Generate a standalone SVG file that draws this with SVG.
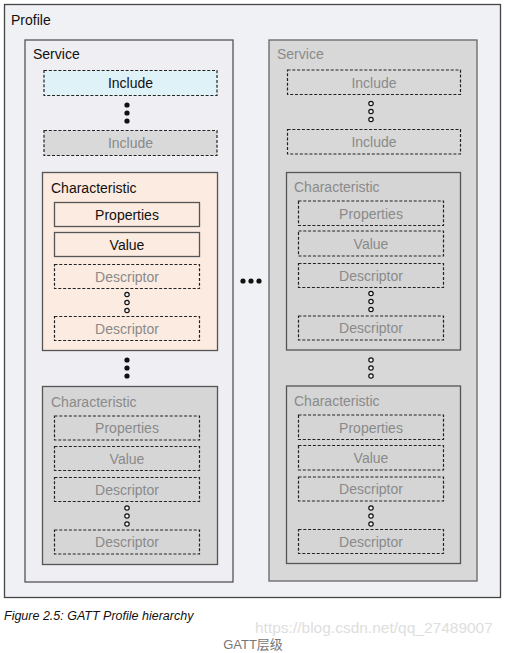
<svg xmlns="http://www.w3.org/2000/svg" width="507" height="653" viewBox="0 0 507 653">
<style>
text{font-family:"Liberation Sans",Arial,sans-serif;font-size:14px;fill:#111}
.g{fill:#8a8a8a}
.c{text-anchor:middle}
.solid{stroke:#555;stroke-width:1.3}
.dash{stroke:#222;stroke-width:1.2;stroke-dasharray:3 1.8}
.dot{fill:#111}
.ring{fill:#f4f4f4;stroke:#111;stroke-width:1.2}
</style>
<rect width="507" height="653" fill="#fff"/>
<g id="profile">
<rect x="4.5" y="4.5" width="496" height="593" fill="#f0f1f5" stroke="#444" stroke-width="1.3"/>
<text x="11" y="25">Profile</text>
</g>
<g id="service1">
<rect x="25" y="40" width="208" height="542" fill="#eeeef3" class="solid"/>
<text x="33" y="59">Service</text>
</g>
<g id="include1a"><rect x="44" y="70.5" width="173" height="25" fill="#dff2f8" class="dash"/><text x="130.5" y="88" class="c">Include</text></g>
<g id="include1b"><rect x="44" y="130.5" width="173" height="25" fill="#d9d9d9" class="dash"/><text x="130.5" y="148" class="c g">Include</text></g>
<g id="char1">
<rect x="42.5" y="172.5" width="175" height="178" fill="#fcebe0" class="solid"/>
<text x="51" y="193">Characteristic</text>
</g>
<g id="props1"><rect x="54.5" y="202.5" width="145" height="24" fill="#fcebe0" class="solid"/><text x="127" y="219.5" class="c">Properties</text></g>
<g id="value1"><rect x="54.5" y="232.5" width="145" height="24" fill="#fcebe0" class="solid"/><text x="127" y="249.5" class="c">Value</text></g>
<g id="desc1a"><rect x="54.5" y="264.5" width="145" height="24" fill="#fcebe0" class="dash"/><text x="127" y="281.5" class="c g">Descriptor</text></g>
<g id="desc1b"><rect x="54.5" y="316.5" width="145" height="24" fill="#fcebe0" class="dash"/><text x="127" y="333.5" class="c g">Descriptor</text></g>
<g id="char2">
<rect x="42.5" y="386.5" width="175" height="178" fill="#d6d6d6" class="solid"/>
<text x="51" y="407" class="g">Characteristic</text>
</g>
<g id="props2"><rect x="54.5" y="416" width="145" height="24" fill="#d6d6d6" class="dash"/><text x="127" y="433" class="c g">Properties</text></g>
<g id="value2"><rect x="54.5" y="446.5" width="145" height="24" fill="#d6d6d6" class="dash"/><text x="127" y="463.5" class="c g">Value</text></g>
<g id="desc2a"><rect x="54.5" y="477.5" width="145" height="24" fill="#d6d6d6" class="dash"/><text x="127" y="494.5" class="c g">Descriptor</text></g>
<g id="desc2b"><rect x="54.5" y="530" width="145" height="24" fill="#d6d6d6" class="dash"/><text x="127" y="547" class="c g">Descriptor</text></g>

<g id="service2">
<rect x="269" y="40" width="208" height="541" fill="#d8d8d8" stroke="#666" stroke-width="1.3"/>
<text x="277" y="59" class="g">Service</text>
</g>
<g id="include2a"><rect x="287.5" y="70" width="173" height="24.5" fill="#d8d8d8" class="dash"/><text x="374" y="87.5" class="c g">Include</text></g>
<g id="include2b"><rect x="287.5" y="129.5" width="173" height="24.5" fill="#d8d8d8" class="dash"/><text x="374" y="147" class="c g">Include</text></g>
<g id="char3">
<rect x="286.5" y="172.5" width="174" height="177.5" fill="#d5d5d5" stroke="#555" stroke-width="1.3"/>
<text x="294" y="192" class="g">Characteristic</text>
</g>
<g id="props3"><rect x="298.5" y="201" width="145" height="24.5" fill="#d5d5d5" class="dash"/><text x="371" y="218.5" class="c g">Properties</text></g>
<g id="value3"><rect x="298.5" y="231" width="145" height="25" fill="#d5d5d5" class="dash"/><text x="371" y="248.5" class="c g">Value</text></g>
<g id="desc3a"><rect x="298.5" y="263.5" width="145" height="24" fill="#d5d5d5" class="dash"/><text x="371" y="280.5" class="c g">Descriptor</text></g>
<g id="desc3b"><rect x="298.5" y="316" width="145" height="24" fill="#d5d5d5" class="dash"/><text x="371" y="333" class="c g">Descriptor</text></g>
<g id="char4">
<rect x="286.5" y="386" width="174" height="177.5" fill="#d5d5d5" stroke="#555" stroke-width="1.3"/>
<text x="294" y="406" class="g">Characteristic</text>
</g>
<g id="props4"><rect x="298.5" y="415" width="145" height="24.5" fill="#d5d5d5" class="dash"/><text x="371" y="432.5" class="c g">Properties</text></g>
<g id="value4"><rect x="298.5" y="445.5" width="145" height="24.5" fill="#d5d5d5" class="dash"/><text x="371" y="463" class="c g">Value</text></g>
<g id="desc4a"><rect x="298.5" y="477" width="145" height="24" fill="#d5d5d5" class="dash"/><text x="371" y="494" class="c g">Descriptor</text></g>
<g id="desc4b"><rect x="298.5" y="529.5" width="145" height="24" fill="#d5d5d5" class="dash"/><text x="371" y="546.5" class="c g">Descriptor</text></g>

<g id="ellipses">
<circle cx="127" cy="105" r="2.6" class="dot"/><circle cx="127" cy="113" r="2.6" class="dot"/><circle cx="127" cy="121" r="2.6" class="dot"/>
<circle cx="127" cy="360" r="2.6" class="dot"/><circle cx="127" cy="368" r="2.6" class="dot"/><circle cx="127" cy="376" r="2.6" class="dot"/>
<circle cx="127" cy="294.5" r="2.2" class="ring"/><circle cx="127" cy="302.5" r="2.2" class="ring"/><circle cx="127" cy="310.5" r="2.2" class="ring"/>
<circle cx="127" cy="508" r="2.2" class="ring"/><circle cx="127" cy="516" r="2.2" class="ring"/><circle cx="127" cy="524" r="2.2" class="ring"/>
<circle cx="371" cy="103.5" r="2.2" class="ring"/><circle cx="371" cy="111.5" r="2.2" class="ring"/><circle cx="371" cy="119.5" r="2.2" class="ring"/>
<circle cx="371" cy="293.5" r="2.2" class="ring"/><circle cx="371" cy="301.5" r="2.2" class="ring"/><circle cx="371" cy="309.5" r="2.2" class="ring"/>
<circle cx="371" cy="360" r="2.2" class="ring"/><circle cx="371" cy="368" r="2.2" class="ring"/><circle cx="371" cy="376" r="2.2" class="ring"/>
<circle cx="371" cy="508" r="2.2" class="ring"/><circle cx="371" cy="516" r="2.2" class="ring"/><circle cx="371" cy="524" r="2.2" class="ring"/>
<circle cx="243" cy="281" r="2.6" class="dot"/><circle cx="251" cy="281" r="2.6" class="dot"/><circle cx="259" cy="281" r="2.6" class="dot"/>
</g>
<g id="caption">
<text x="4" y="620" style="font-style:italic;font-size:12.5px">Figure 2.5: GATT Profile hierarchy</text>
<text x="255" y="633" style="font-size:15.5px;fill:#dedede">https://blog.csdn.net/qq_27489007</text>
<text x="253" y="649" class="c" style="font-size:13px;fill:#777;font-family:'Liberation Sans','Noto Sans CJK SC',sans-serif">GATT层级</text>
</g>
</svg>
